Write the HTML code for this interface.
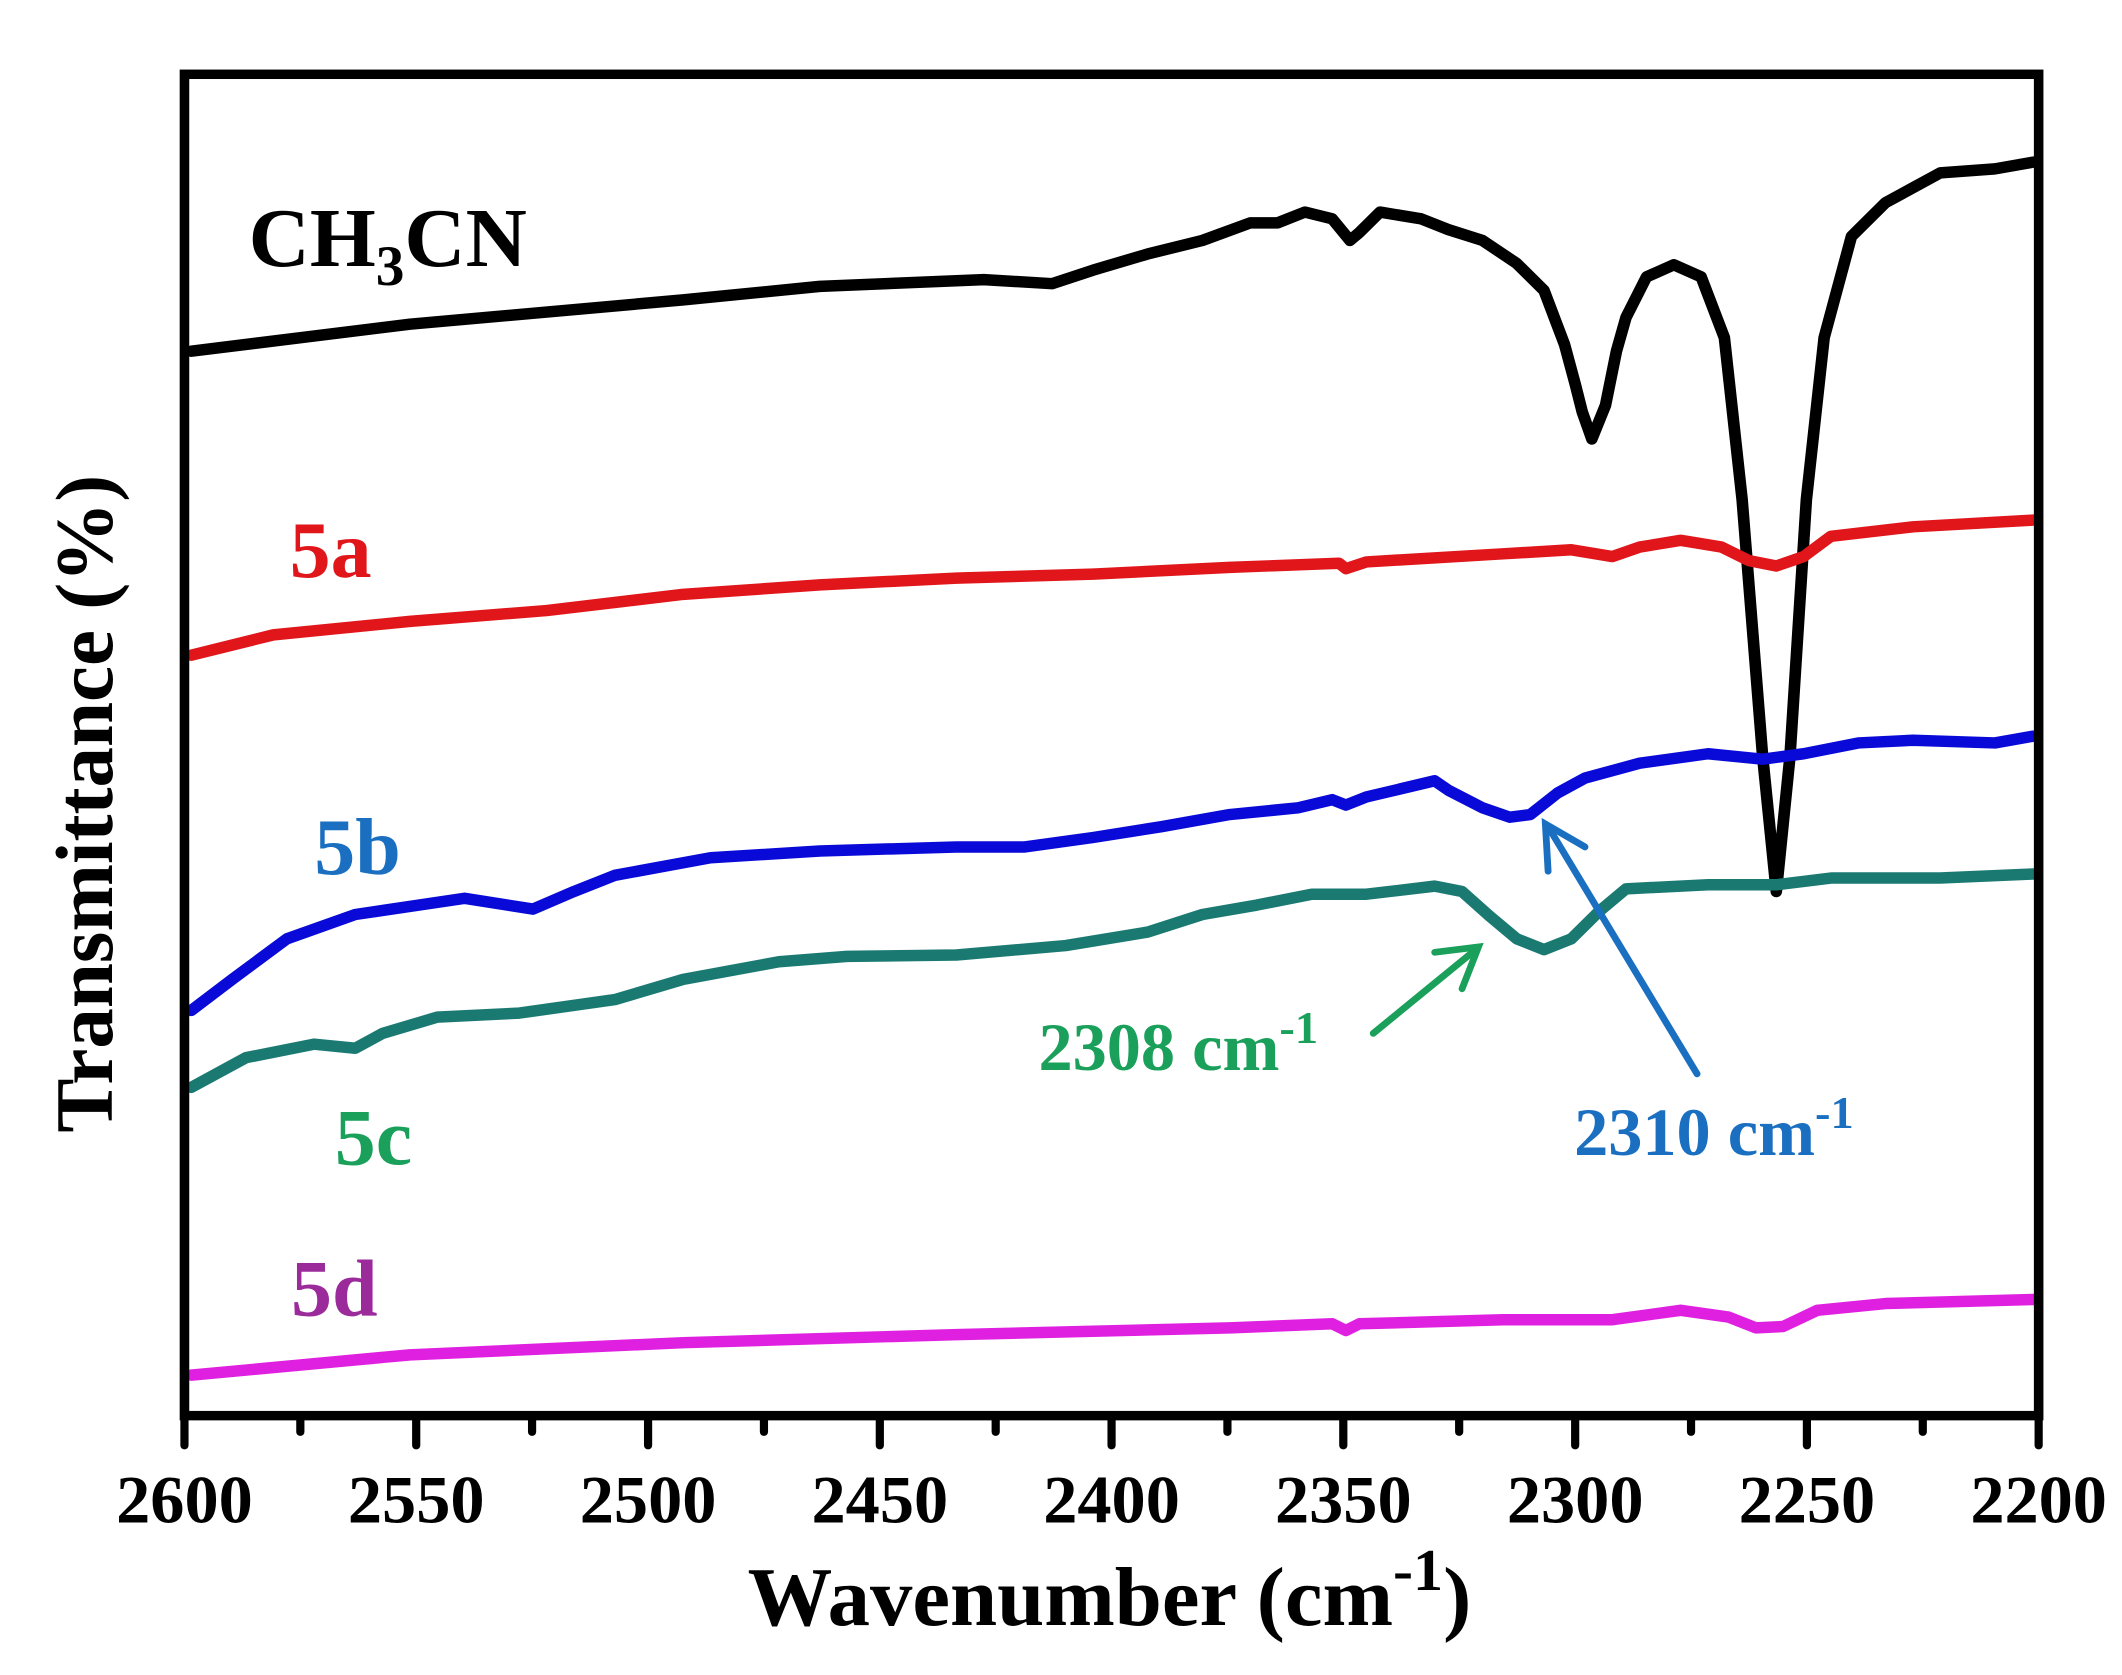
<!DOCTYPE html>
<html><head><meta charset="utf-8"><style>
html,body{margin:0;padding:0;background:#fff;}
svg{display:block;}
text{font-family:"Liberation Serif",serif;font-weight:bold;}
</style></head><body>
<svg width="2122" height="1675" viewBox="0 0 1553 1240" preserveAspectRatio="none" xmlns="http://www.w3.org/2000/svg">
<rect width="1553" height="1240" fill="#fff"/>
<g fill="none" stroke-linejoin="round" stroke-linecap="round" stroke-width="8.5">
<polyline stroke="#000" points="140,260 300,240 500,222 600,212 720,207 770,210 800,200 840,188 880,178 915,165 935,165 955,157 975,162 988,178 995,172 1010,157 1040,162 1060,170 1085,178 1110,195 1130,215 1145,255 1153,285 1158,305 1165,325 1175,300 1183,260 1190,235 1205,205 1225,196 1245,205 1262,250 1275,370 1290,560 1300,660 1310,560 1322,370 1335,250 1355,175 1380,150 1420,128 1460,125 1488,120"/>
<polyline stroke="#e0161b" points="140,485 200,470 300,460 400,452 500,440 600,433 700,428 800,425 900,420 980,417 985,421 1000,416 1100,410 1150,407 1180,412 1200,405 1230,400 1260,405 1280,415 1300,419 1320,412 1340,397 1400,390 1488,385"/>
<polyline stroke="#0a0ad8" points="140,748 170,725 210,695 260,677 340,665 390,673 420,660 450,648 520,635 600,630 700,627 750,627 800,620 850,612 900,603 950,598 975,592 985,596 1000,590 1050,578 1060,585 1085,598 1105,605 1120,603 1140,587 1160,576 1200,565 1250,558 1290,562 1320,558 1360,550 1400,548 1460,550 1488,545"/>
<polyline stroke="#1a7a72" points="140,805 180,783 230,773 260,776 280,765 320,753 380,750 450,740 500,725 570,712 620,708 700,707 780,700 840,690 880,677 920,670 960,662 1000,662 1050,656 1070,660 1090,678 1110,695 1130,703 1150,695 1170,675 1190,658 1250,655 1300,655 1340,650 1420,650 1488,647"/>
<polyline stroke="#e020e0" points="140,1018 300,1003 500,994 700,988 900,983 975,980 985,985 995,980 1100,977 1180,977 1230,970 1265,975 1285,983 1305,982 1330,970 1380,965 1488,962"/>
</g>
<rect x="135" y="55" width="1357" height="993" fill="none" stroke="#000" stroke-width="7"/>
<g stroke="#000" stroke-width="6" stroke-linecap="round">
<line x1="135" y1="1048" x2="135" y2="1070"/><line x1="219.8" y1="1048" x2="219.8" y2="1060"/>
<line x1="304.6" y1="1048" x2="304.6" y2="1070"/><line x1="389.4" y1="1048" x2="389.4" y2="1060"/>
<line x1="474.3" y1="1048" x2="474.3" y2="1070"/><line x1="559.1" y1="1048" x2="559.1" y2="1060"/>
<line x1="643.9" y1="1048" x2="643.9" y2="1070"/><line x1="728.7" y1="1048" x2="728.7" y2="1060"/>
<line x1="813.5" y1="1048" x2="813.5" y2="1070"/><line x1="898.3" y1="1048" x2="898.3" y2="1060"/>
<line x1="983.1" y1="1048" x2="983.1" y2="1070"/><line x1="1067.9" y1="1048" x2="1067.9" y2="1060"/>
<line x1="1152.8" y1="1048" x2="1152.8" y2="1070"/><line x1="1237.6" y1="1048" x2="1237.6" y2="1060"/>
<line x1="1322.4" y1="1048" x2="1322.4" y2="1070"/><line x1="1407.2" y1="1048" x2="1407.2" y2="1060"/>
<line x1="1492" y1="1048" x2="1492" y2="1070"/>
</g>
<g font-size="50" text-anchor="middle" fill="#000">
<text x="135" y="1127">2600</text><text x="304.6" y="1127">2550</text><text x="474.3" y="1127">2500</text>
<text x="643.9" y="1127">2450</text><text x="813.5" y="1127">2400</text><text x="983.1" y="1127">2350</text>
<text x="1152.8" y="1127">2300</text><text x="1322.4" y="1127">2250</text><text x="1492" y="1127">2200</text>
</g>
<text x="812" y="1203" font-size="62" text-anchor="middle" fill="#000">Wavenumber (cm<tspan font-size="44" dy="-26">-1</tspan><tspan dy="26">)</tspan></text>
<text transform="translate(82,595) rotate(-90)" font-size="60" text-anchor="middle" fill="#000">Transmittance (%)</text>
<text x="182" y="197" font-size="62" fill="#000">CH<tspan font-size="42" dy="14">3</tspan><tspan dy="-14">CN</tspan></text>
<text x="212" y="427" font-size="60" fill="#e0161b">5a</text>
<text x="230" y="647" font-size="60" fill="#1a6fc0">5b</text>
<text x="245" y="862" font-size="60" fill="#1aa05a">5c</text>
<text x="213" y="974" font-size="60" fill="#9b2b9b">5d</text>
<text x="760" y="792" font-size="50" fill="#1aa05a">2308 cm<tspan font-size="34" dy="-20">-1</tspan></text>
<text x="1152" y="855" font-size="50" fill="#1a6fc0">2310 cm<tspan font-size="34" dy="-20">-1</tspan></text>
<g stroke-width="5" stroke-linecap="round" fill="none">
<line x1="1005" y1="765" x2="1080" y2="703" stroke="#1aa05a"/>
<polyline points="1050,705 1082,701 1070,732" stroke="#1aa05a"/>
<line x1="1242" y1="795" x2="1133" y2="612" stroke="#1a6fc0"/>
<polyline points="1133,645 1131,610 1160,627" stroke="#1a6fc0"/>
</g>
</svg>
</body></html>
